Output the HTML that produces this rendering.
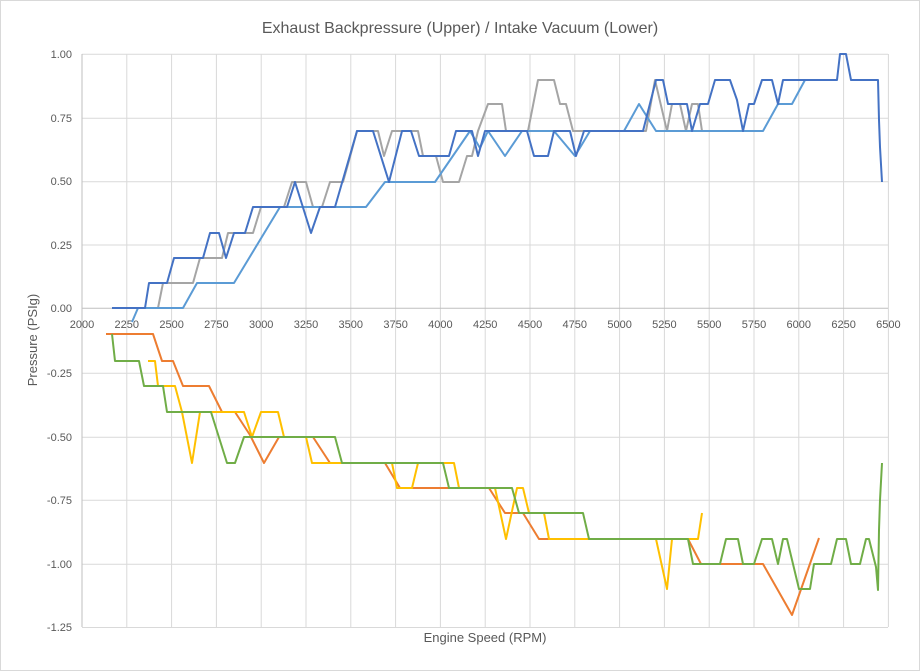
<!DOCTYPE html>
<html><head><meta charset="utf-8"><style>
body{margin:0;background:#fff}
svg{display:block;font-family:"Liberation Sans",sans-serif}
</style></head><body>
<svg width="920" height="671" viewBox="0 0 920 671" xmlns="http://www.w3.org/2000/svg">
<rect x="0.5" y="0.5" width="919" height="670" fill="#fff" stroke="#d9d9d9"/>
<text x="460" y="33" font-size="16" fill="#595959" text-anchor="middle">Exhaust Backpressure (Upper) / Intake Vacuum (Lower)</text>
<g stroke="#d9d9d9" stroke-width="1">
<line x1="82" y1="54.3" x2="888" y2="54.3"/><line x1="82" y1="118.3" x2="888" y2="118.3"/><line x1="82" y1="181.7" x2="888" y2="181.7"/><line x1="82" y1="245" x2="888" y2="245"/>
<line x1="82" y1="373.3" x2="888" y2="373.3"/><line x1="82" y1="437.3" x2="888" y2="437.3"/><line x1="82" y1="500.3" x2="888" y2="500.3"/><line x1="82" y1="564.3" x2="888" y2="564.3"/><line x1="82" y1="627.5" x2="888" y2="627.5"/>
<line x1="126.8" y1="54" x2="126.8" y2="627"/><line x1="171.6" y1="54" x2="171.6" y2="627"/><line x1="216.4" y1="54" x2="216.4" y2="627"/><line x1="261.2" y1="54" x2="261.2" y2="627"/><line x1="306" y1="54" x2="306" y2="627"/><line x1="350.8" y1="54" x2="350.8" y2="627"/><line x1="395.6" y1="54" x2="395.6" y2="627"/><line x1="440.4" y1="54" x2="440.4" y2="627"/><line x1="485.2" y1="54" x2="485.2" y2="627"/><line x1="530" y1="54" x2="530" y2="627"/><line x1="574.8" y1="54" x2="574.8" y2="627"/><line x1="619.6" y1="54" x2="619.6" y2="627"/><line x1="664.4" y1="54" x2="664.4" y2="627"/><line x1="709.2" y1="54" x2="709.2" y2="627"/><line x1="754" y1="54" x2="754" y2="627"/><line x1="798.8" y1="54" x2="798.8" y2="627"/><line x1="843.6" y1="54" x2="843.6" y2="627"/><line x1="888.4" y1="54" x2="888.4" y2="627"/>
</g>
<line x1="82" y1="54" x2="82" y2="627" stroke="#bfbfbf"/>
<line x1="82" y1="308.3" x2="888" y2="308.3" stroke="#bfbfbf"/>
<g font-size="11" fill="#595959" text-anchor="end">
<text x="72" y="58">1.00</text><text x="72" y="122">0.75</text><text x="72" y="185">0.50</text><text x="72" y="249">0.25</text><text x="72" y="312">0.00</text><text x="72" y="377">-0.25</text><text x="72" y="441">-0.50</text><text x="72" y="504">-0.75</text><text x="72" y="568">-1.00</text><text x="72" y="631">-1.25</text>
</g>
<g font-size="11" fill="#595959" text-anchor="middle">
<text x="82" y="328">2000</text><text x="126.8" y="328">2250</text><text x="171.6" y="328">2500</text><text x="216.4" y="328">2750</text><text x="261.2" y="328">3000</text><text x="306" y="328">3250</text><text x="350.8" y="328">3500</text><text x="395.6" y="328">3750</text><text x="440.4" y="328">4000</text><text x="485.2" y="328">4250</text><text x="530" y="328">4500</text><text x="574.8" y="328">4750</text><text x="619.6" y="328">5000</text><text x="664.4" y="328">5250</text><text x="709.2" y="328">5500</text><text x="754" y="328">5750</text><text x="798.8" y="328">6000</text><text x="843.6" y="328">6250</text><text x="888.4" y="328">6500</text>
</g>
<text transform="translate(37,340) rotate(-90)" font-size="13" fill="#595959" text-anchor="middle">Pressure (PSIg)</text>
<text x="485" y="642" font-size="13" fill="#595959" text-anchor="middle">Engine Speed (RPM)</text>
<g fill="none" stroke-width="2" stroke-linejoin="round">
<polyline stroke="#A5A5A5" points="147,308 158,308 163,283 193,283 200,258 222,258 228,233 253,233 261,207 284,207 292,182 306,182 313,207 322,207 330,182 343,182 350,157 357,131 378,131 384,156 392,131 418,131 423,156 436,156 443,182 459,182 467,156 472,156 478,131 488,104 502,104 506,131 528,131 538,80 554,80 560,104 566,104 573,131 646,131 655,80 667,131 672,104 680,104 686,131 692,104 698,104 702,131"/>
<polyline stroke="#5B9BD5" points="132,322 138,308 183,308 197,283 234,283 280,207 366,207 385,182 435,182 470,131 480,148 488,131 505,156 522,131 554,131 575,156 590,131 624,131 639,104 656,131 763,131 778,104 792,104 805,80"/>
<polyline stroke="#4472C4" points="112,308 145,308 149,283 167,283 174,258 203,258 210,233 219,233 226,258 234,233 245,233 253,207 287,207 295,182 311,233 320,207 335,207 357,131 373,131 389,182 402,131 411,131 419,156 449,156 456,131 472,131 478,156 485,131 527,131 534,156 548,156 554,131 570,131 576,156 584,131 643,131 656,80 663,80 668,104 687,104 692,131 700,104 708,104 715,80 730,80 737,100 743,131 749,104 754,104 762,80 772,80 778,104 783,80 837,80 840,54 846,54 851,80 878,80 879,120 880,147 882,182"/>
<polyline stroke="#ED7D31" points="106,334 153,334 162,361 173,361 183,386 209,386 222,412 235,412 250,435 264,463 279,437 313,437 330,463 385,463 400,488 447,488 489,488 505,513 523,513 539,539 688,539 701,564 763,564 792,615 819,538"/>
<polyline stroke="#FFC000" points="148,361 155,361 158,386 175,386 182,412 192,463 200,412 244,412 252,437 261,412 278,412 284,437 306,437 312,463 392,463 397,488 412,488 418,463 454,463 459,488 495,488 506,539 517,488 523,488 529,513 544,513 549,539 656,539 667,589 672,539 698,539 702,513"/>
<polyline stroke="#70AD47" points="112,334 115,361 139,361 144,386 163,386 167,412 211,412 227,463 235,463 244,437 335,437 342,463 443,463 449,488 512,488 519,513 583,513 589,539 688,539 693,564 720,564 726,539 738,539 743,564 754,564 762,539 772,539 778,564 783,539 787,539 799,589 810,589 814,564 831,564 837,539 846,539 851,564 860,564 866,539 869,539 876,567 878,590 879,530 880,500 882,463"/>
</g>
</svg>
</body></html>
